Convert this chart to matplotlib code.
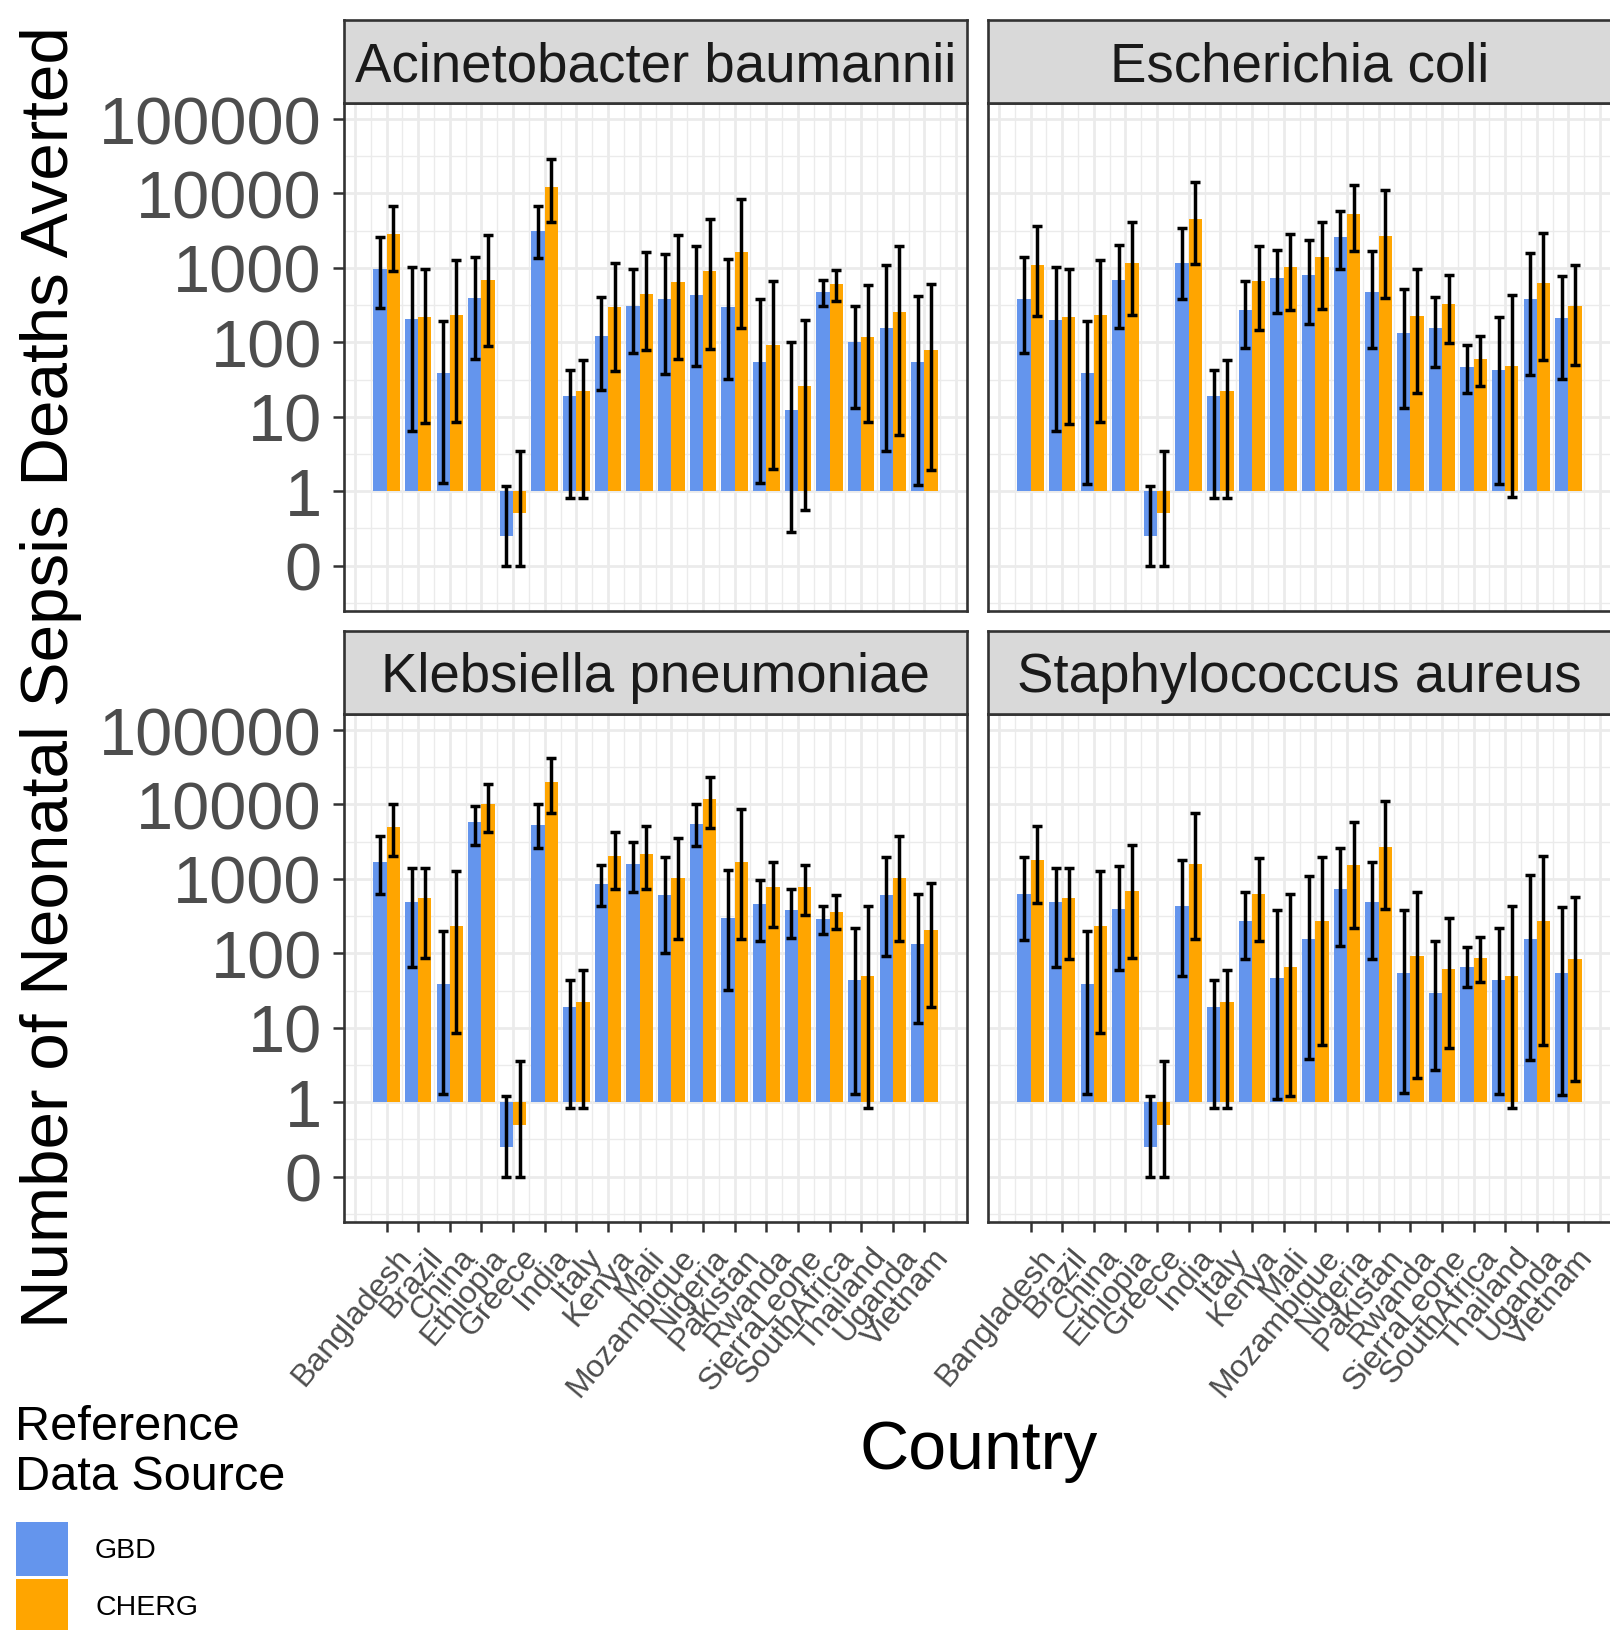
import numpy as np
import matplotlib
matplotlib.use("Agg")
import matplotlib.pyplot as plt
import matplotlib.transforms as mtransforms
from matplotlib.patches import Rectangle
from matplotlib.ticker import FixedLocator, FixedFormatter, NullLocator

plt.rcParams['font.family'] = ['Liberation Sans', 'DejaVu Sans']

countries = ["Bangladesh", "Brazil", "China", "Ethiopia", "Greece", "India", "Italy",
             "Kenya", "Mali", "Mozambique", "Nigeria", "Pakistan", "Rwanda",
             "SierraLeone", "SouthAfrica", "Thailand", "Uganda", "Vietnam"]
pathogens = ["Acinetobacter baumannii", "Escherichia coli",
             "Klebsiella pneumoniae", "Staphylococcus aureus"]
sources = ["GBD", "CHERG"]

# Acinetobacter baumannii
ab_gbd = [980, 204, 39, 389, 0.25, 3090, 19, 123, 309, 380, 437, 295, 54, 12.3, 479, 102, 155, 54]
ab_gbd_lo = [288, 6.5, 1.3, 60, 0.1, 1349, 0.81, 23, 71, 37, 48, 32, 1.3, 0.28, 309, 13, 3.5, 1.2]
ab_gbd_hi = [2570, 1023, 195, 1413, 1.17, 6761, 43, 407, 977, 1549, 1950, 1318, 380, 100, 692, 309, 1096, 417]
ab_cherg = [2818, 219, 234, 692, 0.51, 12023, 22.4, 295, 447, 646, 912, 1622, 93, 25.7, 603, 117, 257, 79]
ab_cherg_lo = [912, 8.3, 8.5, 89, 0.1, 4169, 0.81, 41, 79, 59, 81, 155, 2.0, 0.56, 363, 8.5, 5.6, 1.9]
ab_cherg_hi = [6761, 977, 1259, 2754, 3.5, 28840, 58, 1148, 1622, 2754, 4467, 8318, 676, 200, 933, 589, 1995, 603]

# Escherichia coli
ec_gbd = [380, 200, 39, 692, 0.25, 1175, 19, 275, 724, 813, 2570, 479, 132, 155, 46, 42, 380, 214]
ec_gbd_lo = [71, 6.5, 1.26, 158, 0.1, 380, 0.81, 83, 245, 178, 977, 83, 13, 47, 21, 1.26, 36, 32]
ec_gbd_hi = [1380, 1023, 195, 2042, 1.17, 3467, 43, 676, 1738, 2344, 5754, 1660, 525, 407, 91, 219, 1585, 776]
ec_cherg = [1096, 219, 234, 1175, 0.51, 4571, 22.4, 676, 1023, 1380, 5370, 2692, 229, 324, 59, 48, 631, 309]
ec_cherg_lo = [224, 8.1, 8.5, 234, 0.1, 1122, 0.81, 148, 269, 282, 1698, 398, 21, 98, 26, 0.83, 58, 49]
ec_cherg_hi = [3631, 977, 1259, 4074, 3.5, 14454, 58, 1950, 2884, 4074, 13183, 10965, 955, 813, 123, 427, 2951, 1096]

# Klebsiella pneumoniae
kp_gbd = [1698, 490, 39, 5754, 0.25, 5370, 19, 851, 1585, 603, 5495, 295, 457, 380, 288, 44, 603, 132]
kp_gbd_lo = [631, 66, 1.29, 2884, 0.1, 2570, 0.83, 427, 676, 100, 2754, 32, 145, 162, 182, 1.29, 93, 11.7]
kp_gbd_hi = [3802, 1413, 200, 9550, 1.2, 10000, 44, 1514, 3090, 1995, 10000, 1318, 955, 741, 437, 219, 1995, 617]
kp_cherg = [5012, 550, 234, 10000, 0.5, 19953, 22.4, 2042, 2188, 1023, 11749, 1698, 776, 776, 355, 50, 1023, 204]
kp_cherg_lo = [2042, 87, 8.5, 4266, 0.1, 7762, 0.83, 724, 741, 155, 4898, 155, 224, 324, 209, 0.83, 148, 19]
kp_cherg_hi = [10000, 1380, 1288, 18621, 3.6, 42658, 59, 4266, 5129, 3548, 23442, 8710, 1698, 1549, 603, 427, 3715, 891]

# Staphylococcus aureus
sa_gbd = [617, 490, 39, 389, 0.25, 427, 19, 269, 47, 155, 724, 490, 55, 29.5, 66, 44, 155, 55]
sa_gbd_lo = [151, 66, 1.29, 60, 0.1, 50, 0.83, 83, 1.1, 3.8, 126, 85, 1.32, 2.7, 35, 1.29, 3.7, 1.26]
sa_gbd_hi = [1950, 1413, 200, 1479, 1.2, 1820, 44, 661, 380, 1096, 2570, 1698, 380, 148, 123, 219, 1122, 417]
sa_cherg = [1820, 550, 234, 692, 0.5, 1585, 22.4, 617, 66, 269, 1514, 2692, 93, 61.7, 87, 50, 269, 85]
sa_cherg_lo = [479, 85, 8.5, 87, 0.1, 155, 0.83, 145, 1.2, 5.9, 219, 398, 2.1, 5.4, 41, 0.83, 5.8, 1.95]
sa_cherg_hi = [5129, 1380, 1288, 2818, 3.6, 7586, 59, 1905, 631, 1995, 5754, 10965, 676, 302, 166, 427, 2042, 575]

ytick_vals = [0.1, 1, 10, 100, 1000, 10000, 100000]
ytick_labels = ["0", "1", "10", "100", "1000", "10000", "100000"]

panel_data = [
    (ab_gbd, ab_gbd_lo, ab_gbd_hi, ab_cherg, ab_cherg_lo, ab_cherg_hi),
    (ec_gbd, ec_gbd_lo, ec_gbd_hi, ec_cherg, ec_cherg_lo, ec_cherg_hi),
    (kp_gbd, kp_gbd_lo, kp_gbd_hi, kp_cherg, kp_cherg_lo, kp_cherg_hi),
    (sa_gbd, sa_gbd_lo, sa_gbd_hi, sa_cherg, sa_cherg_lo, sa_cherg_hi),
]

colors = {"GBD": "#6495ED", "CHERG": "#FFA500"}
GRID = "#EBEBEB"
BORDER = "#333333"
TICKTXT = "#4D4D4D"

W, H = 1610, 1631
fig = plt.figure(figsize=(W / 100, H / 100), dpi=100)


def px_axes(x0, y0, x1, y1):
    return fig.add_axes([x0 / W, 1 - y1 / H, (x1 - x0) / W, (y1 - y0) / H])


PW, PH, SH = 623, 508, 83
positions = [(344, 104), (988, 104), (344, 715), (988, 715)]
n = len(countries)
x = np.arange(n)
bw = 0.42
xlo, xhi = -1.345, n - 1 + 1.345
ylo, yhi = 10 ** -1.61, 10 ** 5.215
label_shift = mtransforms.ScaledTranslation(6 / 72, -3 / 72, fig.dpi_scale_trans)

for i, (pname, (x0, y0), data) in enumerate(zip(pathogens, positions, panel_data)):
    g, glo, ghi, c, clo, chi = [np.array(d, dtype=float) for d in data]
    ax = px_axes(x0, y0, x0 + PW, y0 + PH)
    ax.set_yscale("log")
    ax.set_xlim(xlo, xhi)
    ax.set_ylim(ylo, yhi)
    # grid
    for k in range(int(np.floor(xlo)), int(np.ceil(xhi)) + 1):
        if xlo < k < xhi:
            ax.axvline(k, color=GRID, lw=2.0, zorder=0)
        if xlo < k + 0.5 < xhi:
            ax.axvline(k + 0.5, color=GRID, lw=1.0, zorder=0)
    for e in range(-2, 6):
        if ylo < 10 ** e < yhi:
            ax.axhline(10 ** e, color=GRID, lw=2.0, zorder=0)
        if ylo < 10 ** (e + 0.5) < yhi:
            ax.axhline(10 ** (e + 0.5), color=GRID, lw=1.0, zorder=0)

    ax.bar(x - bw / 2, g - 1, bottom=1, width=bw, color=colors["GBD"], zorder=2, linewidth=0)
    ax.bar(x + bw / 2, c - 1, bottom=1, width=bw, color=colors["CHERG"], zorder=2, linewidth=0)
    ax.errorbar(x - bw / 2, g, yerr=[g - glo, ghi - g], fmt="none", ecolor="black",
                elinewidth=2.5, capsize=3.5, capthick=2.5, zorder=3)
    ax.errorbar(x + bw / 2, c, yerr=[c - clo, chi - c], fmt="none", ecolor="black",
                elinewidth=2.5, capsize=3.5, capthick=2.5, zorder=3)

    for s in ax.spines.values():
        s.set_color(BORDER)
        s.set_linewidth(1.9)
        s.set_zorder(5)

    ax.yaxis.set_major_locator(FixedLocator(ytick_vals))
    ax.yaxis.set_minor_locator(NullLocator())
    ax.xaxis.set_major_locator(FixedLocator(list(x)))
    ax.xaxis.set_minor_locator(NullLocator())
    if i % 2 == 0:
        ax.yaxis.set_major_formatter(FixedFormatter(ytick_labels))
        ax.tick_params(axis="y", length=8, width=1.8, color=BORDER, pad=8,
                       labelsize=48, labelcolor=TICKTXT)
    else:
        ax.tick_params(axis="y", length=0, labelleft=False)
    if i >= 2:
        ax.set_xticklabels(countries)
        ax.tick_params(axis="x", length=7, width=1.8, color=BORDER, pad=4.5,
                       labelsize=23, labelcolor=TICKTXT)
        for lab in ax.get_xticklabels():
            lab.set_rotation(50)
            lab.set_ha("right")
            lab.set_va("top")
            lab.set_rotation_mode("anchor")
            lab.set_transform(lab.get_transform() + label_shift)
    else:
        ax.tick_params(axis="x", length=0, labelbottom=False)

    sax = px_axes(x0, y0 - SH, x0 + PW, y0)
    sax.set_facecolor("#D9D9D9")
    sax.set_xticks([])
    sax.set_yticks([])
    for s in sax.spines.values():
        s.set_color(BORDER)
        s.set_linewidth(1.9)
    sax.text(0.5, 0.44, pname, transform=sax.transAxes, ha="center", va="center",
             fontsize=39.3, color="#1A1A1A")

# axis titles
fig.text(68 / W, 1 - 1328 / H, "Number of Neonatal Sepsis Deaths Averted", rotation=90,
         rotation_mode="anchor", ha="left", va="baseline", fontsize=48.5, color="black")
fig.text(979 / W, 1 - 1469 / H, "Country", ha="center", va="baseline", fontsize=49,
         color="black")

# legend
fig.text(15 / W, 1 - 1440 / H, "Reference", ha="left", va="baseline", fontsize=35, color="black")
fig.text(15 / W, 1 - 1490 / H, "Data Source", ha="left", va="baseline", fontsize=35, color="black")
key_tops = [1523, 1580]
for src, top in zip(sources, key_tops):
    fig.patches.append(Rectangle((16 / W, 1 - (top + 54) / H), 52 / W, 54 / H,
                                 transform=fig.transFigure, facecolor=colors[src],
                                 edgecolor="none"))
    fig.text(95 / W, 1 - (top + 28) / H, src, ha="left", va="center", fontsize=20.5,
             color="black")

fig.savefig("out.png", dpi=100)
